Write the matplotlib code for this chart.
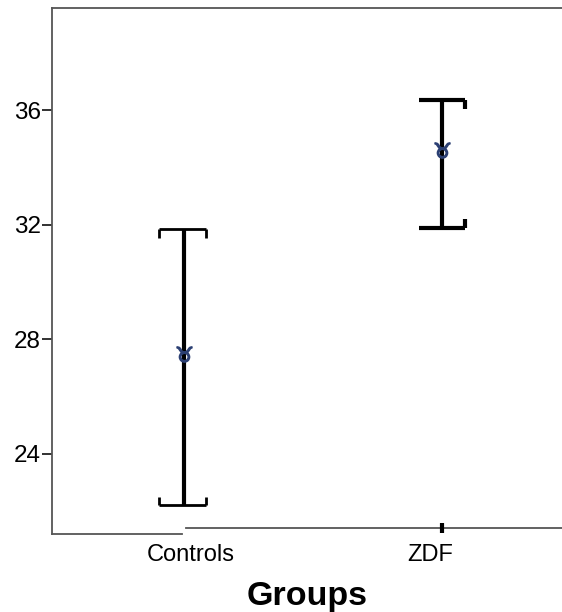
import numpy as np
import matplotlib.pyplot as plt
import matplotlib.transforms as mtransforms
from matplotlib.lines import Line2D

plt.rcParams['font.family'] = ['Liberation Sans', 'DejaVu Sans']

# values
groups = ['Controls', 'ZDF']
means = [27.5, 34.6]
upper = [31.85, 36.35]
lower = [22.2, 31.9]
y_ticks = [24, 28, 32, 36]

pos = np.arange(1, len(groups) + 1)

fig = plt.figure(figsize=(5.62, 6.12), dpi=100)
ax = fig.add_axes([52 / 562, 1 - 534 / 612, 510 / 562, 526 / 612])

# whiskers
ax.vlines(pos, lower, upper, color='black', linewidth=3, zorder=2)

# bracket style caps (each group a bit different, as in the picture)
cw_l, cw_r, tick = 0.095, 0.085, 0.3
ax.hlines(upper[0], pos[0] - cw_l, pos[0] + cw_r, color='black', linewidth=2)
ax.vlines([pos[0] - cw_l, pos[0] + cw_r], upper[0] - tick, upper[0],
          color='black', linewidth=2)
ax.hlines(lower[0], pos[0] - cw_l, pos[0] + cw_r, color='black', linewidth=2)
ax.vlines([pos[0] - cw_l, pos[0] + cw_r], lower[0], lower[0] + tick,
          color='black', linewidth=2)

ax.hlines([upper[1], lower[1]], pos[1] - 0.09, pos[1] + 0.09,
          color='black', linewidth=3)
ax.vlines(pos[1] + 0.09, upper[1] - tick, upper[1], color='black', linewidth=3)
ax.vlines(pos[1] + 0.09, lower[1], lower[1] + tick, color='black', linewidth=3)

# mean markers
ax.plot(pos, means, linestyle='none', marker='$\u2649$', markersize=11,
        color='#2b3f73', zorder=3)

ax.set_xlim(1 - 132 / 258, 2 + 120 / 258)
ax.set_ylim(21.19, 39.58)
ax.set_yticks(y_ticks)
ax.set_xticks(pos)
ax.set_xticklabels(groups)

ax.tick_params(axis='y', direction='out', length=7, width=1.3, pad=1,
               labelsize=17.5, color='#222222')
ax.tick_params(axis='x', length=0, pad=7, labelsize=17)
ax.set_xlabel('Groups', fontsize=24.5, fontweight='bold', labelpad=11)

# labels sit slightly off their ticks in the original
for lab, dx in zip(ax.get_xticklabels(), [7, -12]):
    off = mtransforms.ScaledTranslation(dx / 100, 0, fig.dpi_scale_trans)
    lab.set_transform(lab.get_transform() + off)

for side in ['bottom', 'right']:
    ax.spines[side].set_visible(False)
for side in ['left', 'top']:
    ax.spines[side].set_color('#555555')
    ax.spines[side].set_linewidth(1.3)

# broken baseline like in the original export
ax.add_line(Line2D([0, 0.255], [0, 0], transform=ax.transAxes,
                   color='#555555', linewidth=1.3, clip_on=False))
ax.add_line(Line2D([0.263, 1], [0.0114, 0.0114], transform=ax.transAxes,
                   color='#555555', linewidth=1.3, clip_on=False))
ax.plot([pos[1]], [0.0114], marker='|', markersize=7, markeredgewidth=3,
        color='black', transform=ax.get_xaxis_transform(), clip_on=False)

fig.savefig('out.png', dpi=100)
